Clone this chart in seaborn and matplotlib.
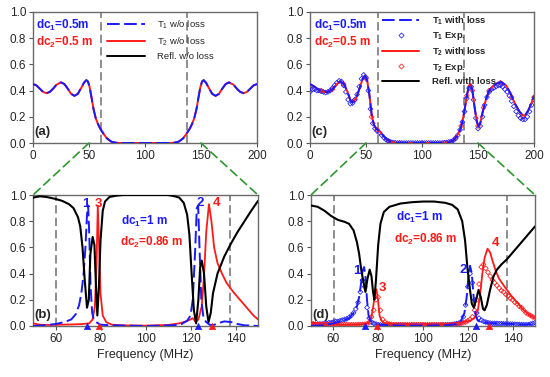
import numpy as np
import matplotlib
matplotlib.use("Agg")
import matplotlib.pyplot as plt
from matplotlib.lines import Line2D
from matplotlib.patches import ConnectionPatch
import seaborn as sns

sns.set_style("ticks")
plt.rcParams["font.family"] = ["Liberation Sans", "DejaVu Sans"]
plt.rcParams["mathtext.fontset"] = "custom"
plt.rcParams["mathtext.rm"] = "Liberation Sans"
plt.rcParams["mathtext.bf"] = "Liberation Sans:bold"

BLUE = "#1a1aff"
RED = "#ff1a1a"
GREEN = "#2e962e"
GREY = "#7a7a7a"

# ---- panel (a): lossless transmission, T1 == T2 ----
freq_a = [0, 3, 6, 9, 12, 15, 18, 21, 25, 28, 31, 34, 37, 40, 43, 45.5, 47.6, 49, 50.5, 52,
          54, 56, 58, 60, 63, 66, 70, 74, 78, 100, 122, 126, 130, 134, 137, 140, 142, 144,
          146, 148, 149.5, 151, 152.4, 154.5, 157, 160, 163, 166, 169, 172, 175, 179, 182,
          185, 188, 191, 194, 197, 200]
trans_a = [0.45, 0.44, 0.415, 0.39, 0.38, 0.39, 0.415, 0.445, 0.463, 0.45, 0.415, 0.375, 0.36,
           0.375, 0.42, 0.46, 0.48, 0.47, 0.43, 0.36, 0.26, 0.19, 0.145, 0.11, 0.07, 0.035,
           0.01, 0.002, 0.0, 0.0, 0.0, 0.002, 0.01, 0.035, 0.07, 0.11, 0.145, 0.19, 0.26,
           0.36, 0.43, 0.47, 0.48, 0.46, 0.42, 0.375, 0.36, 0.375, 0.415, 0.45, 0.463, 0.445,
           0.415, 0.39, 0.38, 0.39, 0.415, 0.44, 0.45]

# ---- panel (c): with loss, model + experiment ----
freq_c = [0, 4, 8, 12, 16, 20, 24, 27, 30, 33, 36, 38, 41, 44, 47, 49, 51, 53, 55, 57, 59, 62,
          65, 68, 72, 76, 80, 100, 120, 124, 128, 131, 134, 136, 138, 140, 142, 143.5, 145,
          147, 149, 150.5, 152, 154, 157, 160, 164, 168, 171, 175, 179, 183, 187, 190, 192,
          195, 198, 200]
trans_c = [0.45, 0.43, 0.405, 0.39, 0.39, 0.41, 0.45, 0.47, 0.455, 0.4, 0.33, 0.31, 0.34, 0.41,
           0.49, 0.515, 0.48, 0.37, 0.22, 0.14, 0.11, 0.09, 0.06, 0.03, 0.01, 0.002, 0.0, 0.0,
           0.001, 0.005, 0.02, 0.05, 0.1, 0.16, 0.25, 0.36, 0.44, 0.45, 0.4, 0.27, 0.16, 0.13,
           0.15, 0.23, 0.33, 0.4, 0.44, 0.46, 0.465, 0.44, 0.38, 0.3, 0.24, 0.21, 0.21, 0.25,
           0.31, 0.36]
exp_freq_c = [0, 2, 4, 6, 8, 10, 12, 14, 16, 18, 20, 22, 24, 26, 28, 30, 32, 34, 36, 38, 40,
              42, 44, 46, 48, 50, 52, 54, 56, 58, 60, 62, 64, 66, 68, 70, 72, 74, 76, 78, 80,
              82, 84, 86, 88, 90, 92, 94, 96, 98, 100, 102, 104, 106, 108, 110, 112, 114, 116,
              118, 120, 122, 124, 126, 128, 130, 132, 134, 136, 138, 140, 142, 144, 146, 148,
              150, 152, 154, 156, 158, 160, 162, 164, 166, 168, 170, 172, 174, 176, 178, 180,
              182, 184, 186, 188, 190, 192, 194, 196, 198, 200]
exp_t1_c = [0.39, 0.41, 0.41, 0.4, 0.4, 0.395, 0.39, 0.385, 0.39, 0.4, 0.42, 0.44, 0.46, 0.475,
            0.47, 0.44, 0.39, 0.33, 0.3, 0.305, 0.33, 0.37, 0.43, 0.49, 0.52, 0.5, 0.4, 0.26,
            0.15, 0.11, 0.09, 0.08, 0.06, 0.04, 0.025, 0.015, 0.008, 0.004, 0.002, 0.0, 0.0,
            0.0, 0.0, 0.0, 0.0, 0.0, 0.0, 0.0, 0.0, 0.0, 0.0, 0.0, 0.0, 0.0, 0.0, 0.0, 0.0, 0.0,
            0.0, 0.0, 0.002, 0.004, 0.008, 0.012, 0.02, 0.035, 0.06, 0.1, 0.16, 0.24, 0.34,
            0.42, 0.43, 0.33, 0.19, 0.11, 0.13, 0.2, 0.29, 0.35, 0.39, 0.41, 0.42, 0.43, 0.44,
            0.44, 0.43, 0.41, 0.39, 0.36, 0.32, 0.28, 0.24, 0.21, 0.19, 0.18, 0.18, 0.2, 0.24,
            0.29, 0.33]
exp_freq_c2 = [0, 10, 20, 30, 40, 50, 55, 60, 70, 80, 100, 120, 130, 135, 140, 145, 150, 155,
               160, 170, 180, 190, 200]
exp_t2_c = [0.42, 0.4, 0.41, 0.45, 0.33, 0.49, 0.2, 0.1, 0.015, 0.0, 0.0, 0.002, 0.04, 0.13,
            0.36, 0.4, 0.13, 0.27, 0.4, 0.46, 0.35, 0.2, 0.35]

# ---- panel (b): lossless, dc1 = 1 m, dc2 = 0.86 m ----
freq_rb = [50, 53, 56, 60, 63, 66, 68, 70, 71, 72, 73, 74, 74.8, 75.5, 76.5, 77.3, 78, 78.6,
           79.3, 80, 81, 82, 84, 87, 90, 100, 110, 113, 115, 117, 118.5, 119.5, 120.5, 121.5,
           122.5, 123.5, 124.3, 125, 126, 127, 128, 129, 130, 132, 135, 138, 141, 144, 147, 150]
refl_b = [0.98, 0.99, 0.985, 0.97, 0.955, 0.93, 0.9, 0.83, 0.76, 0.6, 0.35, 0.14, 0.2, 0.55,
          0.68, 0.62, 0.3, 0.08, 0.3, 0.65, 0.88, 0.95, 0.985, 0.995, 1.0, 1.0, 1.0, 0.99, 0.98,
          0.94, 0.85, 0.7, 0.4, 0.12, 0.02, 0.2, 0.45, 0.5, 0.4, 0.15, 0.03, 0.1, 0.25, 0.4,
          0.53, 0.63, 0.72, 0.8, 0.88, 0.955]
freq_t1b = [50, 55, 60, 64, 67, 69, 70.5, 71.5, 72.5, 73.3, 74, 74.5, 75, 75.6, 76.3, 77, 78,
            80, 85, 100, 112, 116, 118.5, 120, 121, 122, 122.8, 123.4, 124, 124.8, 125.8, 127,
            128.5, 130, 132, 135, 138, 141, 144, 147, 150]
t1_b = [0.0, 0.005, 0.015, 0.03, 0.05, 0.09, 0.16, 0.25, 0.4, 0.6, 0.85, 0.92, 0.7, 0.3, 0.1,
        0.05, 0.03, 0.01, 0.005, 0.0, 0.005, 0.015, 0.04, 0.08, 0.2, 0.55, 0.9, 0.92, 0.6, 0.2,
        0.06, 0.03, 0.01, 0.005, 0.02, 0.035, 0.03, 0.015, 0.005, 0.003, 0.0]
freq_t2b = [50, 53, 57, 62, 67, 72, 75, 76.5, 77.5, 78.2, 78.8, 79.4, 80, 81, 82.5, 85, 90,
            100, 110, 115, 118, 120, 121, 122.3, 123.5, 125, 126, 127, 128.2, 129.3, 130.5,
            132, 134, 136, 139, 142, 145, 148, 150]
t2_b = [0.02, 0.01, 0.008, 0.01, 0.012, 0.015, 0.02, 0.05, 0.15, 0.45, 0.92, 0.6, 0.25, 0.08,
        0.03, 0.01, 0.005, 0.003, 0.008, 0.02, 0.035, 0.05, 0.06, 0.03, 0.05, 0.15, 0.38, 0.72,
        0.93, 0.8, 0.6, 0.48, 0.4, 0.33, 0.26, 0.2, 0.14, 0.08, 0.05]

# ---- panel (d): with loss, dc1 = 1 m, dc2 = 0.86 m ----
freq_rd = [50, 53, 56, 59, 62, 65, 67, 69, 70.5, 71.5, 72.5, 73.5, 74.3, 75.2, 76.2, 77, 77.7,
           78.3, 79, 80, 81, 82.5, 85, 90, 95, 100, 105, 110, 113, 115.5, 117.5, 118.8, 119.8,
           120.8, 121.8, 122.7, 123.7, 124.8, 125.8, 126.8, 127.5, 128.5, 130, 131.5, 133, 135,
           137.5, 140, 143, 146, 148, 150]
refl_d = [0.92, 0.91, 0.88, 0.84, 0.81, 0.795, 0.78, 0.73, 0.64, 0.55, 0.42, 0.33, 0.26, 0.36,
          0.43, 0.38, 0.26, 0.2, 0.35, 0.62, 0.78, 0.87, 0.91, 0.935, 0.945, 0.95, 0.95, 0.94,
          0.925, 0.89, 0.8, 0.65, 0.45, 0.3, 0.17, 0.14, 0.2, 0.275, 0.22, 0.13, 0.12, 0.16,
          0.28, 0.38, 0.43, 0.47, 0.51, 0.56, 0.62, 0.68, 0.72, 0.76]
freq_t1d = [50, 55, 60, 64, 67, 69, 70.5, 71.5, 72.3, 73, 73.7, 74.3, 75, 75.7, 76.5, 78, 80,
            90, 100, 110, 115, 117, 118.5, 119.5, 120.3, 121, 121.8, 122.6, 123.5, 124.5, 126,
            130, 135, 140, 145, 150]
t1_d = [0.0, 0.005, 0.02, 0.04, 0.06, 0.1, 0.15, 0.22, 0.32, 0.42, 0.45, 0.38, 0.2, 0.08, 0.04,
        0.02, 0.01, 0.003, 0.003, 0.005, 0.015, 0.04, 0.1, 0.22, 0.38, 0.46, 0.4, 0.22, 0.08,
        0.04, 0.03, 0.02, 0.02, 0.015, 0.01, 0.015]
freq_t2d = [50, 53, 58, 65, 72, 75.5, 76.8, 77.8, 78.6, 79.2, 79.9, 80.6, 81.5, 83, 90, 100,
            110, 115, 118, 121, 123, 124.5, 125.5, 126.5, 127.5, 128.8, 130, 131, 132.5, 134,
            136, 139, 142, 145, 148, 150]
t2_d = [0.025, 0.015, 0.01, 0.01, 0.012, 0.02, 0.05, 0.15, 0.26, 0.28, 0.2, 0.08, 0.04, 0.02,
        0.01, 0.01, 0.012, 0.02, 0.03, 0.04, 0.06, 0.12, 0.24, 0.4, 0.52, 0.59, 0.56, 0.5, 0.42,
        0.36, 0.31, 0.24, 0.18, 0.12, 0.08, 0.06]
exp_freq_d = [50, 51, 52, 53, 54, 55, 56, 57, 58, 59, 60, 61, 62, 63, 64, 65, 66, 67, 68, 69,
              70, 71, 72, 73, 74, 75, 76, 77, 78, 79, 80, 81, 82, 83, 84, 85, 86, 87, 88, 89,
              90, 91, 92, 93, 94, 95, 96, 97, 98, 99, 100, 101, 102, 103, 104, 105, 106, 107,
              108, 109, 110, 111, 112, 113, 114, 115, 116, 117, 118, 119, 120, 121, 122, 123,
              124, 125, 126, 127, 128, 129, 130, 131, 132, 133, 134, 135, 136, 137, 138, 139,
              140, 141, 142, 143, 144, 145, 146, 147, 148, 149, 150]
exp_t1_d = [0.01, 0.01, 0.01, 0.015, 0.015, 0.015, 0.02, 0.02, 0.025, 0.025, 0.03, 0.035, 0.035,
            0.04, 0.045, 0.05, 0.055, 0.065, 0.08, 0.1, 0.13, 0.18, 0.26, 0.35, 0.3, 0.14,
            0.06, 0.03, 0.02, 0.015, 0.01, 0.008, 0.006, 0.005, 0.005, 0.005, 0.005, 0.005,
            0.005, 0.005, 0.005, 0.005, 0.005, 0.005, 0.005, 0.005, 0.005, 0.005, 0.005, 0.005,
            0.005, 0.005, 0.005, 0.005, 0.005, 0.005, 0.005, 0.005, 0.006, 0.007, 0.008, 0.009,
            0.01, 0.012, 0.015, 0.018, 0.022, 0.03, 0.07, 0.16, 0.3, 0.4, 0.33, 0.2, 0.1, 0.06,
            0.045, 0.035, 0.03, 0.025, 0.022, 0.02, 0.02, 0.02, 0.018, 0.018, 0.017, 0.016,
            0.015, 0.015, 0.014, 0.013, 0.012, 0.012, 0.011, 0.01, 0.01, 0.01, 0.015, 0.02,
            0.025]
exp_t2_d = [0.02, 0.018, 0.015, 0.014, 0.013, 0.012, 0.012, 0.011, 0.011, 0.01, 0.01, 0.01,
            0.01, 0.01, 0.01, 0.01, 0.01, 0.01, 0.01, 0.01, 0.01, 0.011, 0.012, 0.012, 0.013,
            0.015, 0.03, 0.07, 0.12, 0.2, 0.22, 0.12, 0.05, 0.03, 0.02, 0.015, 0.012, 0.01,
            0.01, 0.01, 0.01, 0.01, 0.01, 0.01, 0.01, 0.01, 0.01, 0.01, 0.01, 0.01, 0.01, 0.01,
            0.01, 0.01, 0.01, 0.01, 0.01, 0.01, 0.01, 0.01, 0.01, 0.01, 0.01, 0.01, 0.01, 0.01,
            0.015, 0.02, 0.025, 0.03, 0.04, 0.05, 0.07, 0.12, 0.2, 0.32, 0.45, 0.47, 0.44, 0.41,
            0.38, 0.35, 0.33, 0.31, 0.29, 0.27, 0.26, 0.24, 0.23, 0.21, 0.2, 0.18, 0.17, 0.15,
            0.14, 0.12, 0.1, 0.09, 0.08, 0.07, 0.06]

# resonance markers and the band edge lines
res_blue = [74, 123.5]
res_red = [79.5, 129.5]
band_edges = [60.3, 137.5]

fig = plt.figure(figsize=(5.5, 3.77), dpi=100)
W, H = 550, 377


def make_ax(x0, x1, y0, y1):
    return fig.add_axes([x0 / W, 1 - y1 / H, (x1 - x0) / W, (y1 - y0) / H])


ax_a = make_ax(33, 257, 12, 143)
ax_c = make_ax(310, 534, 12, 143)
ax_b = make_ax(33, 258, 195, 326)
ax_d = make_ax(311, 535, 195, 326)

dash = (0, (6.5, 2.3))
FS = 8.5
MS = 6

for ax in (ax_a, ax_c, ax_b, ax_d):
    ax.set_ylim(0, 1)
    ax.set_yticks([0, 0.2, 0.4, 0.6, 0.8, 1.0])
    ax.set_yticklabels(["0.0", "0.2", "0.4", "0.6", "0.8", "1.0"])
    for e in band_edges:
        ax.axvline(e, color=GREY, lw=1.2, linestyle=(0, (5, 2.5)), zorder=1)
    for s in ax.spines.values():
        s.set_color("#6a6a6a")
        s.set_linewidth(1.0)
    ax.tick_params(direction="out", length=3, width=0.8, color="#555555",
                   labelsize=FS, pad=2)
    ax.set_xlabel("")
    ax.set_ylabel("")

for ax in (ax_a, ax_c):
    ax.set_xlim(0, 200)
    ax.set_xticks([0, 50, 100, 150, 200])
for ax in (ax_b, ax_d):
    ax.set_xlim(50, 150)
    ax.set_xticks([60, 80, 100, 120, 140])

# (a)
sns.lineplot(x=freq_a, y=trans_a, ax=ax_a, color=RED, lw=1.4, zorder=3)
sns.lineplot(x=freq_a, y=trans_a, ax=ax_a, color=BLUE, lw=1.4, linestyle=dash, zorder=4)

# (c)
sns.scatterplot(x=exp_freq_c2, y=exp_t2_c, ax=ax_c, marker="D", s=MS, facecolor="none",
                edgecolor=RED, linewidth=0.55, zorder=2)
sns.scatterplot(x=exp_freq_c, y=exp_t1_c, ax=ax_c, marker="D", s=MS, facecolor="none",
                edgecolor=BLUE, linewidth=0.55, zorder=3)
sns.lineplot(x=freq_c, y=trans_c, ax=ax_c, color=RED, lw=1.4, zorder=4)
sns.lineplot(x=freq_c, y=trans_c, ax=ax_c, color=BLUE, lw=1.4, linestyle=dash, zorder=5)

# (b)
sns.lineplot(x=freq_t2b, y=t2_b, ax=ax_b, color=RED, lw=1.3, zorder=3)
sns.lineplot(x=freq_t1b, y=t1_b, ax=ax_b, color=BLUE, lw=1.4, linestyle=dash, zorder=4)
sns.lineplot(x=freq_rb, y=refl_b, ax=ax_b, color="black", lw=1.5, zorder=5)

# (d)
sns.scatterplot(x=exp_freq_d, y=exp_t1_d, ax=ax_d, marker="D", s=MS, facecolor="none",
                edgecolor=BLUE, linewidth=0.55, zorder=2)
sns.scatterplot(x=exp_freq_d, y=exp_t2_d, ax=ax_d, marker="D", s=MS, facecolor="none",
                edgecolor=RED, linewidth=0.55, zorder=2)
sns.lineplot(x=freq_t2d, y=t2_d, ax=ax_d, color=RED, lw=1.3, zorder=3)
sns.lineplot(x=freq_t1d, y=t1_d, ax=ax_d, color=BLUE, lw=1.4, linestyle=dash, zorder=4)
sns.lineplot(x=freq_rd, y=refl_d, ax=ax_d, color="black", lw=1.5, zorder=5)

for ax in (ax_b, ax_d):
    sns.scatterplot(x=res_blue, y=[0, 0], ax=ax, marker="^", s=22, color=BLUE,
                    edgecolor=BLUE, clip_on=False, zorder=6)
    sns.scatterplot(x=res_red, y=[0, 0], ax=ax, marker="^", s=22, color=RED,
                    edgecolor=RED, clip_on=False, zorder=6)
    ax.set_xlabel("Frequency (MHz)", fontsize=FS + 0.5, labelpad=3)

# text annotations
def dtext(ax, x, y, n, val, color):
    ax.text(x, y, "dc$_\\mathbf{%d}$=%s" % (n, val), color=color, fontsize=8.5,
            fontweight="bold", ha="left", va="center", zorder=7)


dtext(ax_a, 3, 0.9, 1, "0.5m", BLUE)
dtext(ax_a, 3, 0.765, 2, "0.5 m", RED)
dtext(ax_c, 3.5, 0.9, 1, "0.5m", BLUE)
dtext(ax_c, 3.5, 0.765, 2, "0.5 m", RED)
dtext(ax_b, 89, 0.8, 1, "1 m", BLUE)
dtext(ax_b, 88.5, 0.64, 2, "0.86 m", RED)
dtext(ax_d, 88, 0.83, 1, "1 m", BLUE)
dtext(ax_d, 87, 0.66, 2, "0.86 m", RED)

for ax, lab, x in ((ax_a, "(a)", 1.5), (ax_c, "(c)", 1.5), (ax_b, "(b)", 50.8), (ax_d, "(d)", 50.8)):
    ax.text(x, 0.085, lab, fontsize=9.5, fontweight="bold", ha="left", va="center", zorder=7)

peak_labels = [(ax_b, 73.5, 0.93, "1", BLUE), (ax_b, 79.2, 0.93, "3", RED),
               (ax_b, 124.5, 0.94, "2", BLUE), (ax_b, 131.5, 0.94, "4", RED),
               (ax_d, 70.5, 0.42, "1", BLUE), (ax_d, 81.8, 0.29, "3", RED),
               (ax_d, 118, 0.43, "2", BLUE), (ax_d, 132.2, 0.63, "4", RED)]
for ax, x, y, t, c in peak_labels:
    ax.text(x, y, t, color=c, fontsize=9.5, fontweight="bold", ha="center", va="center", zorder=7)

# legends
h_a = [Line2D([], [], color=BLUE, lw=1.4, linestyle=dash),
       Line2D([], [], color=RED, lw=1.4),
       Line2D([], [], color="black", lw=1.4)]
ax_a.legend(h_a, ["T$_1$ w/o loss", "T$_2$ w/o loss", "Refl. w/o loss"], loc="upper left",
            bbox_to_anchor=(0.33, 0.95), frameon=False, fontsize=6.8, handlelength=4.0,
            handletextpad=1.3, labelspacing=0.45, borderpad=0, borderaxespad=0)

h_c = [Line2D([], [], color=BLUE, lw=1.4, linestyle=dash),
       Line2D([], [], color=BLUE, lw=0, marker="D", ms=2.6, mfc="none", mew=0.55),
       Line2D([], [], color=RED, lw=1.4),
       Line2D([], [], color=RED, lw=0, marker="D", ms=2.6, mfc="none", mew=0.55),
       Line2D([], [], color="black", lw=1.4)]
ax_c.legend(h_c, ["T$_\\mathbf{1}$ with loss", "T$_\\mathbf{1}$ Exp.",
                  "T$_\\mathbf{2}$ with loss", "T$_\\mathbf{2}$ Exp.", "Refl. with loss"],
            loc="upper left", bbox_to_anchor=(0.32, 0.98), frameon=False,
            handlelength=4.0, handletextpad=1.3, labelspacing=0.35,
            borderpad=0, borderaxespad=0, prop={"weight": "bold", "size": 6.8})

# zoom connectors
for top, bot in ((ax_a, ax_b), (ax_c, ax_d)):
    for xv in (50, 150):
        con = ConnectionPatch(xyA=(xv, 0), coordsA=top.transData, xyB=(xv, 1.0),
                              coordsB=bot.transData, color=GREEN, lw=1.2,
                              linestyle=(0, (5, 3)))
        fig.add_artist(con)

fig.savefig("out.png", dpi=100)
